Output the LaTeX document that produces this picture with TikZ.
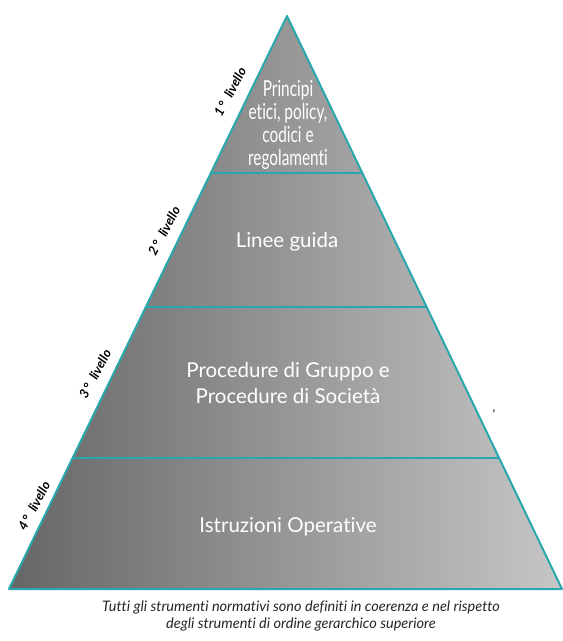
\documentclass[tikz,border=0pt]{standalone}
\usepackage{fontspec}
\setmainfont{Lato}[Ligatures={NoCommon}]
\usetikzlibrary{calc}
\definecolor{teal1}{RGB}{40,168,174}
\definecolor{gdark}{RGB}{102,102,102}
\definecolor{glight}{RGB}{198,198,198}
\begin{document}
\begin{tikzpicture}[x=1pt,y=-1pt,
  sep/.style={draw=teal1,line width=2pt},
  lvl/.style={font=\fontsize{13}{15}\selectfont\itshape\bfseries, rotate=62, text=black, inner sep=0pt},
  band/.style={text=white, align=center, inner sep=0pt, font=\fontsize{20.5}{26}\selectfont},
  topband/.style={text=white, align=center, inner sep=0pt, font=\fontsize{22}{23}\selectfont},
  caption/.style={align=center, inner sep=0pt, font=\fontsize{14.5}{17}\selectfont\itshape, text=black!85}]
\useasboundingbox (0,0) rectangle (563,641);
\coordinate (A) at (287,16);
\coordinate (L) at (9,589);
\coordinate (R) at (562,589);
\shade[left color=gdark, right color=glight] (A)--(L)--(R)--cycle;
\coordinate (l1) at ($(A)!0.2740!(L)$);
\coordinate (r1) at ($(A)!0.2740!(R)$);
\coordinate (l2) at ($(A)!0.5079!(L)$);
\coordinate (r2) at ($(A)!0.5079!(R)$);
\coordinate (l3) at ($(A)!0.7714!(L)$);
\coordinate (r3) at ($(A)!0.7714!(R)$);
\draw[sep] (l1) -- (r1);
\draw[sep] (l2) -- (r2);
\draw[sep] (l3) -- (r3);
\draw[sep, line join=round] (A) -- (L) -- (R) -- cycle;
\node[topband, anchor=base] (t1) at (288,165) {\scalebox{0.7}[1]{Principi}\\\scalebox{0.7}[1]{etici, policy,}\\\scalebox{0.7}[1]{codici e}\\\scalebox{0.7}[1]{regolamenti}};
\node[band, anchor=base] (t2) at (287,247) {Linee guida};
\node[band, anchor=base] (t3) at (288,403) {Procedure di Gruppo e\\Procedure di Società};
\node[band, anchor=base] (t4) at (288,532) {Istruzioni Operative};
\node[lvl] (v1) at (230,92) {1\,°\enspace livello};
\node[lvl] (v2) at (164,231) {2\,°\enspace livello};
\node[lvl] (v3) at (95,374) {3\,°\enspace livello};
\node[lvl] (v4) at (34,506) {4\,°\enspace livello};
\node[inner sep=0pt, font=\fontsize{10}{10}\selectfont\bfseries] (mk) at (494,414) {'};
\node[caption, anchor=base] (cap) at (301,628) {Tutti gli strumenti normativi sono definiti in coerenza e nel rispetto\\degli strumenti di ordine gerarchico superiore};
\end{tikzpicture}
\end{document}
